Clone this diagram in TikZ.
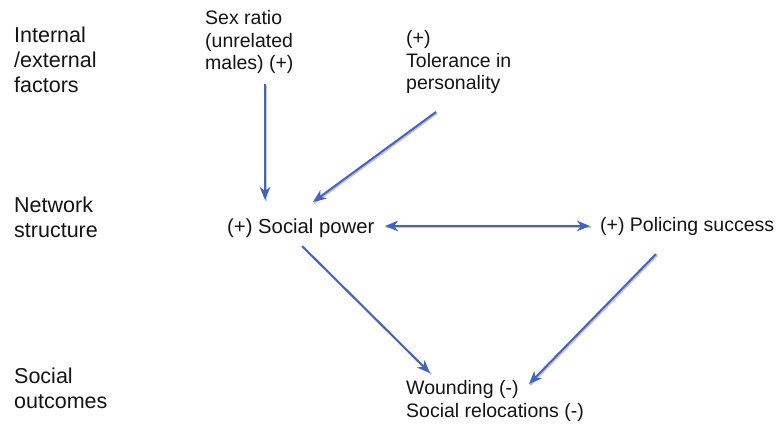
\documentclass[tikz,border=0pt]{standalone}
\usepackage{fontspec}
\setmainfont{Liberation Sans}
\usetikzlibrary{arrows.meta,calc}
\definecolor{linkblue}{RGB}{68,98,190}
\definecolor{ink}{RGB}{20,20,20}
\begin{document}
\begin{tikzpicture}[x=1pt,y=-1pt,
  lbl/.style={inner sep=0pt,anchor=west,align=left,text=ink,
    font=\fontsize{19.5}{22.8}\selectfont},
  rowlbl/.style={lbl,font=\fontsize{21.5}{25}\selectfont},
  tip/.tip={Stealth[length=13pt,width=10.5pt,inset=4pt]},
  link/.style={draw=linkblue,line width=2pt,-tip,
    preaction={draw=black!22,line width=2pt,-,
      transform canvas={shift={(1.2pt,-1.2pt)}}}},
  both/.style={link,tip-tip}]
\useasboundingbox (0,0) rectangle (779,431);
\fill[white] (0,0) rectangle (779,431);

% row headings
\node[rowlbl] (rowA) at (14,60) {Internal\\/external\\factors};
\node[rowlbl] (rowB) at (14,217.5) {Network\\structure};
\node[rowlbl] (rowC) at (14,388) {Social\\outcomes};

% factors, network measures and outcomes
\node[lbl] (sex) at (205,42) {Sex ratio\\(unrelated\\males) (+)};
\node[lbl] (tol) at (406,62) {(+)\\Tolerance in\\personality};
\node[lbl,font=\fontsize{20.3}{23}\selectfont] (sp) at (227,228) {(+) Social power};
\node[lbl] (pol) at (600,226.5) {(+) Policing success};
\node[lbl] (wnd) at (406,401) {Wounding (-)\\Social relocations (-)};

% influences
\draw[link] ($(sex.west)+(60,42)$) -- ($(sp.west)+(38,-28)$);
\draw[link] ($(tol.west)+(30,50)$) -- ($(sp.west)+(86,-26)$);
\draw[both] ($(sp.west)+(158,-2)$) -- ($(pol.west)+(-10,-0.5)$);
\draw[link] ($(sp.west)+(75,18)$) -- ($(wnd.west)+(24,-28)$);
\draw[link] ($(pol.west)+(56,27.5)$) -- ($(wnd.west)+(123,-17)$);
\end{tikzpicture}
\end{document}
